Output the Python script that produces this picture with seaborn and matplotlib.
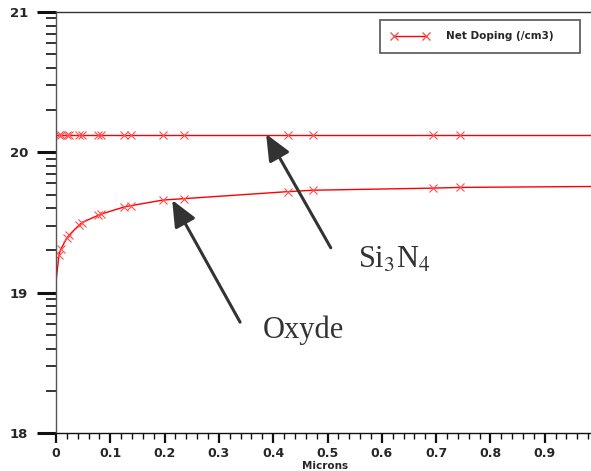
import numpy as np
import pandas as pd
import matplotlib
matplotlib.use("Agg")
import matplotlib.pyplot as plt
from matplotlib.lines import Line2D
from matplotlib.ticker import FixedLocator
import seaborn as sns

# marker positions (microns)
marker_x = [0.0055, 0.009, 0.020, 0.024, 0.042, 0.048, 0.077, 0.083,
            0.125, 0.138, 0.197, 0.236, 0.427, 0.473, 0.694, 0.744]
# log10 of net doping
si3n4_y = [20.12] * len(marker_x)
oxyde_y = [19.27, 19.31, 19.39, 19.41, 19.48, 19.50, 19.55, 19.56,
           19.61, 19.62, 19.66, 19.67, 19.72, 19.73, 19.745, 19.75]
# line end points (no marker)
x_start, x_end = 0.0, 1.0
si3n4_ends = (20.12, 20.12)
oxyde_ends = (19.08, 19.757)

x_ticks = [0, 0.1, 0.2, 0.3, 0.4, 0.5, 0.6, 0.7, 0.8, 0.9]
x_labels = ["0", "0.1", "0.2", "0.3", "0.4", "0.5", "0.6", "0.7", "0.8", "0.9"]
y_ticks = [18, 19, 20, 21]

sns.set_style("white")
plt.rcParams["font.family"] = ["DejaVu Sans"]

W, H = 591, 471
fig = plt.figure(figsize=(W / 100, H / 100), dpi=100)
ax = fig.add_axes([56 / W, 1 - 433 / H, 1 - 56 / W, (433 - 12) / H])

red = "#ff0000"
for name, ys, ends in [("Si3N4", si3n4_y, si3n4_ends), ("Oxyde", oxyde_y, oxyde_ends)]:
    df = pd.DataFrame({"x": [x_start] + marker_x + [x_end],
                       "y": [ends[0]] + ys + [ends[1]]})
    sns.lineplot(data=df, x="x", y="y", ax=ax, color=red, lw=1.0,
                 marker="x", markersize=5.5, markeredgewidth=0.8,
                 markeredgecolor="#ff5050", markevery=slice(1, -1),
                 sort=False, estimator=None)

ax.set_xlim(0, (W - 56) / 543)
ax.set_ylim(18, 21)
ax.set_xlabel("")
ax.set_ylabel("")

# spines
ax.spines["right"].set_visible(False)
ax.spines["top"].set_color("#333333")
ax.spines["left"].set_color("#555555")
ax.spines["bottom"].set_color("#111111")
for s in ["top", "left", "bottom"]:
    ax.spines[s].set_linewidth(1.0)

# x ticks
ax.set_xticks(x_ticks)
ax.set_xticklabels(x_labels, fontsize=9, fontweight="bold")
ax.xaxis.set_minor_locator(FixedLocator(np.arange(0, 1.0, 0.02)))
ax.tick_params(axis="x", which="major", direction="out", length=7, width=1.6,
               pad=3, color="#111111", bottom=True)
ax.tick_params(axis="x", which="minor", direction="out", length=4, width=1.0,
               color="#111111", bottom=True)

# y ticks (log style minor ticks)
ax.set_yticks(y_ticks)
ax.set_yticklabels([str(v) for v in y_ticks], fontsize=9.5, fontweight="bold")
minor_y = [n + np.log10(k) for n in [18, 19, 20] for k in range(2, 10)]
ax.yaxis.set_minor_locator(FixedLocator(minor_y))
ax.tick_params(axis="y", which="major", direction="out", length=14, width=2.2,
               pad=6, color="#111111", left=True)
ax.tick_params(axis="y", which="minor", direction="out", length=7, width=1.2,
               color="#111111", left=True)

fig.text(325 / W, 1 - 466 / H, "Microns", fontsize=7.5, fontweight="bold",
         ha="center", va="center")

# legend
handle = Line2D([], [], color=red, lw=1.0, marker="x", markersize=5.5,
                markeredgecolor="#ff5050")
leg = ax.legend([handle], ["Net Doping (/cm3)    "], loc="upper right",
                bbox_to_anchor=(580 / W, 1 - 20 / H), bbox_transform=fig.transFigure,
                prop={"weight": "bold", "size": 7.5}, frameon=True, fancybox=False,
                numpoints=2, handlelength=3.6, handletextpad=1.7, borderpad=1.1,
                borderaxespad=0)
leg.get_frame().set_edgecolor("#555555")
leg.get_frame().set_linewidth(1.2)
leg.get_frame().set_alpha(1.0)

# annotations
arrow = dict(arrowstyle="-|>,head_length=1.6,head_width=0.7", color="#333333",
             lw=2.2, shrinkA=0, shrinkB=0)
ax.annotate("", xy=(0.387, 20.13), xytext=(0.506, 19.32), arrowprops=arrow)
ax.annotate("", xy=(0.214, 19.66), xytext=(0.339, 18.79), arrowprops=arrow)
ax.text(0.556, 19.23, "Si$_3$N$_4$", fontsize=22, family="Liberation Serif",
        color="#333333", ha="left", va="center", math_fontfamily="stix")
ax.text(0.380, 18.73, "Oxyde", fontsize=22, family="Liberation Serif",
        color="#333333", ha="left", va="center")

fig.savefig("out.png", dpi=100)
